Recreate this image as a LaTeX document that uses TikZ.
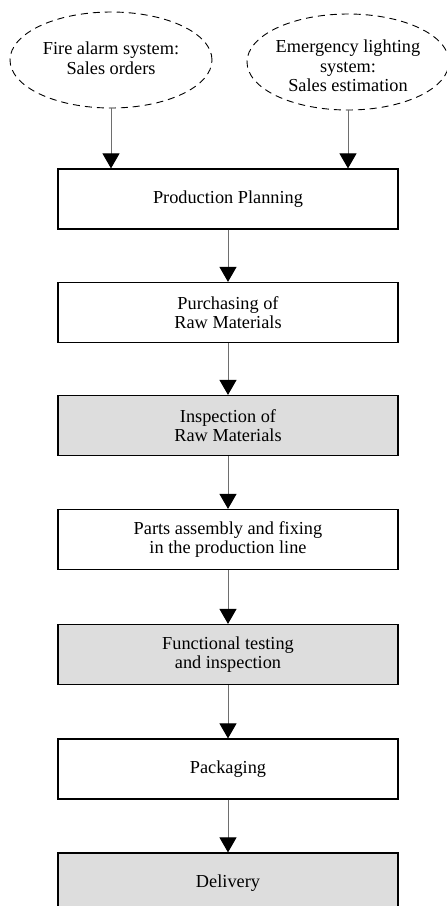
\documentclass[tikz,border=0pt]{standalone}
\usepackage{fontspec}
\setmainfont{Liberation Serif}
\usetikzlibrary{arrows.meta,shapes.geometric}
\definecolor{shadegray}{RGB}{221,221,221}
\definecolor{shaftgray}{RGB}{110,110,110}

\begin{document}
\begin{tikzpicture}[x=1pt,y=-1pt,
    every node/.style={font=\fontsize{18.3}{19.5}\selectfont, align=center},
    stage/.style={draw, line width=1.2pt, minimum width=340pt, minimum height=60pt, inner sep=0pt},
    check/.style={stage, fill=shadegray},
    source/.style={ellipse, draw, dash pattern=on 7pt off 5pt, line width=0.9pt,
      minimum width=202pt, minimum height=96pt, inner sep=0pt},
    >={Triangle[length=15pt,width=17pt,color=black]},
    flow/.style={->, draw=shaftgray, line width=1pt}]
      \useasboundingbox (0,0) rectangle (447,906);
      %Sales inputs
      \node[source] (fire) at (111,60) {};
      \node (firetext) at (111,58) {Fire alarm system:\\Sales orders};
      \node[source] (light) at (348,62) {};
      \node (lighttext) at (348,66) {Emergency lighting\\system:\\Sales estimation};
      %Process stages
      \node[stage] (plan) at (228,199) {Production Planning};
      \node[stage] (buy) at (228,312.5) {Purchasing of\\Raw Materials};
      \node[check] (inspect) at (228,425.5) {Inspection of\\Raw Materials};
      \node[stage] (assembly) at (228,539.5) {Parts assembly and fixing\\in the production line};
      \node[check] (testing) at (228,654.5) {Functional testing\\and inspection};
      \node[stage] (pack) at (228,769) {Packaging};
      \node[check] (deliver) at (228,883) {Delivery};
      %Arrows
      \draw[flow] (fire.south) -- (fire.south |- plan.north);
      \draw[flow] (light.south) -- (light.south |- plan.north);
      \draw[flow] (plan) -- (buy);
      \draw[flow] (buy) -- (inspect);
      \draw[flow] (inspect) -- (assembly);
      \draw[flow] (assembly) -- (testing);
      \draw[flow] (testing) -- (pack);
      \draw[flow] (pack) -- (deliver);
\end{tikzpicture}
\end{document}
